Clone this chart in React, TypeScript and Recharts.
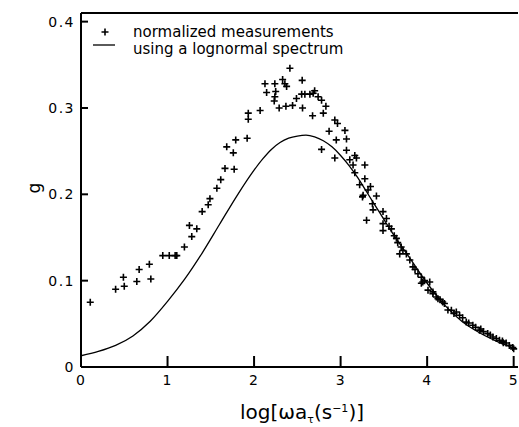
import React from "react";
import {
  ComposedChart,
  Line,
  Scatter,
  XAxis,
  YAxis,
  ReferenceLine,
} from "recharts";

// ---- data ----
const xTicks = [0, 1, 2, 3, 4, 5];
const yTicks = [0, 0.1, 0.2, 0.3, 0.4];

const curveX = [0, 0.2, 0.4, 0.6, 0.8, 1.0, 1.2, 1.4, 1.6, 1.8, 2.0, 2.1, 2.2, 2.3, 2.4, 2.5, 2.6, 2.7, 2.8, 2.9, 3.0, 3.1, 3.2, 3.3, 3.4, 3.5, 3.6, 3.8, 4.0, 4.2, 4.4, 4.6, 4.8, 5.0];
const curveY = [0.013, 0.018, 0.025, 0.036, 0.053, 0.076, 0.102, 0.132, 0.165, 0.198, 0.228, 0.241, 0.252, 0.26, 0.265, 0.2675, 0.2685, 0.2665, 0.262, 0.255, 0.245, 0.233, 0.219, 0.203, 0.187, 0.171, 0.155, 0.126, 0.097, 0.072, 0.053, 0.04, 0.03, 0.022];

const measX = [
  0.107, 0.4, 0.5, 0.49, 0.645, 0.672, 0.79, 0.807, 0.945, 1.02, 1.088, 1.107, 1.195, 1.28, 1.253, 1.338, 1.4, 1.47, 1.49, 1.57,
  1.615, 1.664, 1.77, 1.76, 1.684, 1.788, 1.92, 1.933, 1.933, 2.07,
  2.414, 2.126, 2.24, 2.33, 2.356, 2.376, 2.556, 2.145, 2.25, 2.24, 2.233, 2.29, 2.368, 2.445, 2.49, 2.56, 2.55, 2.587, 2.645, 2.683,
  2.7, 2.74, 2.78, 2.83, 2.676, 2.8,
  2.933, 2.964, 3.05, 2.867, 2.95, 3.068, 2.78, 2.933, 3.068, 3.164, 3.183, 3.106, 3.28, 3.144, 3.164, 3.28, 3.22, 3.26, 3.317,
  3.345, 3.253, 3.414, 3.368, 3.375, 3.3, 3.49, 3.53, 3.49, 3.49, 3.587, 3.645, 3.66, 3.683, 3.76, 3.8, 3.836, 3.894, 3.933, 4.03,
  3.933, 4.01, 4.067, 4.125, 4.2, 4.24, 3.56, 3.62, 3.7, 3.72, 3.86, 3.97,
  3.95, 4.067, 4.106, 4.18, 4.28, 4.337, 4.375, 4.452, 4.528, 4.605, 4.7, 4.76, 4.836, 4.913, 4.99,
  4.15, 4.31, 4.41, 4.48, 4.56, 4.65, 4.73, 4.8, 4.87, 4.95, 5.0, 4.62, 4.88,
];
const measY = [
  0.075, 0.09, 0.0935, 0.104, 0.099, 0.113, 0.119, 0.102, 0.129, 0.129, 0.129, 0.129, 0.139, 0.151, 0.164, 0.16, 0.18, 0.188, 0.195, 0.207,
  0.217, 0.23, 0.229, 0.248, 0.255, 0.263, 0.265, 0.287, 0.294, 0.297,
  0.346, 0.328, 0.328, 0.333, 0.328, 0.325, 0.332, 0.318, 0.319, 0.313, 0.308, 0.3, 0.302, 0.303, 0.311, 0.3, 0.316, 0.316, 0.316, 0.317,
  0.32, 0.313, 0.309, 0.302, 0.291, 0.294,
  0.286, 0.282, 0.274, 0.273, 0.263, 0.264, 0.252, 0.242, 0.251, 0.245, 0.242, 0.24, 0.234, 0.234, 0.225, 0.218, 0.211, 0.199, 0.205,
  0.209, 0.197, 0.198, 0.189, 0.182, 0.17, 0.18, 0.172, 0.166, 0.158, 0.16, 0.149, 0.144, 0.131, 0.131, 0.124, 0.116, 0.108, 0.104, 0.0985,
  0.097, 0.089, 0.085, 0.079, 0.0735, 0.066, 0.163, 0.152, 0.139, 0.135, 0.113, 0.1,
  0.0985, 0.087, 0.081, 0.0753, 0.0657, 0.0637, 0.06, 0.052, 0.0483, 0.0425, 0.0387, 0.0348, 0.031, 0.0278, 0.0225,
  0.078, 0.062, 0.057, 0.051, 0.046, 0.041, 0.037, 0.033, 0.03, 0.025, 0.021, 0.044, 0.028,
];

const curveData = curveX.map((x, i) => ({ x, y: curveY[i] }));
const measData = measX.map((x, i) => ({ x, y: measY[i] }));

const FONT = "'DejaVu Sans', sans-serif";

const fmt = (v: number) => (v === 0 ? "0" : String(v));

const XTick = (props: any) => {
  const { x, y, payload } = props;
  return (
    <g>
      <line x1={x} x2={x} y1={y} y2={y - 11} stroke="#000" strokeWidth={2} />
      <text x={x} y={y + 18} textAnchor="middle" fontSize={14} fontFamily={FONT} fill="#000" letterSpacing={1}>
        {fmt(payload.value)}
      </text>
    </g>
  );
};

const YTick = (props: any) => {
  const { x, y, payload } = props;
  return (
    <g>
      <line x1={x} x2={x + 7} y1={y} y2={y} stroke="#000" strokeWidth={2} />
      <text x={x - 6} y={y + 5} textAnchor="end" fontSize={14} fontFamily={FONT} fill="#000" letterSpacing={1.5}>
        {fmt(payload.value)}
      </text>
    </g>
  );
};

const Plus = (props: any) => {
  const { cx, cy } = props;
  if (cx == null || cy == null) return null;
  return (
    <path
      d={`M${cx - 3.5},${cy}H${cx + 3.5}M${cx},${cy - 3.5}V${cy + 3.5}`}
      stroke="#000"
      strokeWidth={1.6}
      fill="none"
    />
  );
};

export default function App() {
  return (
    <div style={{ position: "absolute", left: 0, top: 0, width: 519, height: 427, background: "#fff" }}>
      <ComposedChart width={519} height={427} margin={{ top: 13, right: 1, left: 0, bottom: 0 }}>
        <XAxis
          type="number"
          dataKey="x"
          domain={[0, 5.05]}
          ticks={xTicks}
          allowDataOverflow
          tickSize={0}
          tickMargin={0}
          tick={<XTick />}
          axisLine={{ stroke: "#000", strokeWidth: 2 }}
          height={60}
        />
        <YAxis
          type="number"
          dataKey="y"
          domain={[0, 0.41]}
          ticks={yTicks}
          allowDataOverflow
          tickSize={0}
          tickMargin={0}
          tick={<YTick />}
          axisLine={{ stroke: "#000", strokeWidth: 2 }}
          width={81}
        />
        <ReferenceLine y={0.41} stroke="#000" strokeWidth={2} />
        <Line
          data={curveData}
          dataKey="y"
          type="monotone"
          stroke="#000"
          strokeWidth={1.3}
          dot={false}
          activeDot={false}
          isAnimationActive={false}
        />
        <Scatter data={measData} dataKey="y" shape={<Plus />} isAnimationActive={false} />
      </ComposedChart>
      <svg
        width={519}
        height={427}
        style={{ position: "absolute", left: 0, top: 0, pointerEvents: "none" }}
      >
        <path d="M101.5,32H108.5M105,28.5V35.5" stroke="#000" strokeWidth={1.6} fill="none" />
        <text x={133} y={37} fontSize={15} fontFamily={FONT} fill="#000">
          normalized measurements
        </text>
        <line x1={93} x2={115} y1={45} y2={45} stroke="#000" strokeWidth={1.3} />
        <text x={133} y={54} fontSize={15} fontFamily={FONT} fill="#000">
          using a lognormal spectrum
        </text>
        <text
          x={40}
          y={188}
          fontSize={17}
          fontFamily={FONT}
          fill="#000"
          textAnchor="middle"
          transform="rotate(-90, 40, 188)"
        >
          g
        </text>
        <text x={302} y={419} fontSize={20} fontFamily={FONT} fill="#000" textAnchor="middle">
          log[ωa
          <tspan fontSize={11} dy={4}>τ</tspan>
          <tspan dy={-4}>(s</tspan>
          <tspan fontSize={11} dy={-7}>−1</tspan>
          <tspan dy={7}>)]</tspan>
        </text>
      </svg>
    </div>
  );
}
